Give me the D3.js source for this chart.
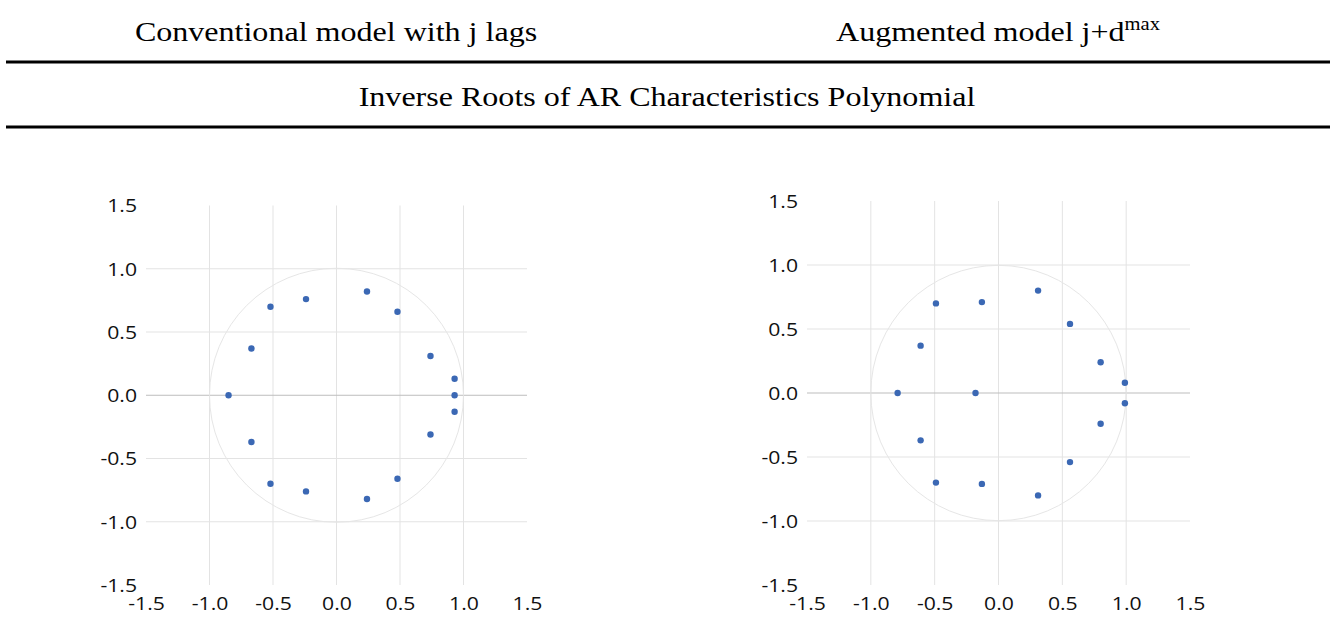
<!DOCTYPE html>
<html>
<head>
<meta charset="utf-8">
<script src="https://cdn.jsdelivr.net/npm/d3@7"></script>
<style>
  body { margin: 0; background: #fff; }
  svg { display: block; }
</style>
</head>
<body>
<div id="chart"></div>
<script>
// headings
const leftTitle = "Conventional model with j lags";
const rightTitle = "Augmented model j+d";
const rightTitleSup = "max";
const panelTitle = "Inverse Roots of AR Characteristics Polynomial";

// tick labels shared by both panels
const tickValues = [-1.5, -1.0, -0.5, 0.0, 0.5, 1.0, 1.5];
const gridValues = [-1.0, -0.5, 0.0, 0.5, 1.0];

// inverse roots, conventional model (real, imaginary)
const convRe = [-0.85, -0.67, -0.67, -0.52, -0.52, -0.24, -0.24, 0.24, 0.24, 0.48, 0.48, 0.74, 0.74, 0.93, 0.93, 0.93];
const convIm = [0.00, 0.37, -0.37, 0.70, -0.70, 0.76, -0.76, 0.82, -0.82, 0.66, -0.66, 0.31, -0.31, 0.13, 0.00, -0.13];

// inverse roots, augmented model (real, imaginary)
const augRe = [-0.79, -0.61, -0.61, -0.49, -0.49, -0.18, -0.13, -0.13, 0.31, 0.31, 0.56, 0.56, 0.80, 0.80, 0.99, 0.99];
const augIm = [0.00, 0.37, -0.37, 0.70, -0.70, 0.00, 0.71, -0.71, 0.80, -0.80, 0.54, -0.54, 0.24, -0.24, 0.08, -0.08];

const width = 1335;
const height = 635;
const serif = "'Liberation Serif', 'Times New Roman', serif";
const sans = "'Open Sans', 'Noto Sans', sans-serif";
const dotColor = "#3b68b4";
// the source picture is a bit stretched sideways
const stretch = 1.145;

const svg = d3.select("#chart")
    .append("svg")
    .attr("width", width)
    .attr("height", height);

function heading(x, y, txt) {
    return svg.append("text")
        .attr("transform", `translate(${x},${y}) scale(${stretch},1)`)
        .attr("text-anchor", "middle")
        .attr("font-family", serif)
        .attr("font-size", 28)
        .attr("fill", "#000")
        .text(txt);
}

heading(336, 41, leftTitle);
heading(998, 41, rightTitle)
    .append("tspan")
    .attr("font-size", 18)
    .attr("dy", -11)
    .text(rightTitleSup);
heading(667, 106, panelTitle);

svg.selectAll("line.rule")
    .data([62, 127])
    .join("line")
    .attr("class", "rule")
    .attr("x1", 6)
    .attr("x2", 1330)
    .attr("y1", d => d)
    .attr("y2", d => d)
    .attr("stroke", "#000")
    .attr("stroke-width", 3);

function drawPanel(re, im, xRange, yRange) {
    const data = re.map((r, i) => ({re: r, im: im[i]}));

    const x = d3.scaleLinear().domain([-1.5, 1.5]).range(xRange);
    const y = d3.scaleLinear().domain([-1.5, 1.5]).range(yRange);

    const g = svg.append("g");

    // gridlines (inner ticks only, like the excel chart)
    g.append("g")
        .selectAll("line")
        .data(gridValues)
        .join("line")
        .attr("x1", d => x(d))
        .attr("x2", d => x(d))
        .attr("y1", y(1.5))
        .attr("y2", y(-1.5))
        .attr("stroke", "#e3e3e3")
        .attr("stroke-width", 1);

    g.append("g")
        .selectAll("line")
        .data(gridValues)
        .join("line")
        .attr("x1", x(-1.5))
        .attr("x2", x(1.5))
        .attr("y1", d => y(d))
        .attr("y2", d => y(d))
        .attr("stroke", d => d === 0 ? "#bdbdbd" : "#e3e3e3")
        .attr("stroke-width", 1);

    // unit circle
    g.append("circle")
        .attr("cx", x(0))
        .attr("cy", y(0))
        .attr("r", x(1) - x(0))
        .attr("fill", "none")
        .attr("stroke", "#e6e6e6")
        .attr("stroke-width", 1);

    const fmt = d => d.toFixed(1);

    const yAxis = g.append("g")
        .attr("transform", `translate(${x(-1.5) - 9},0)`)
        .call(d3.axisLeft(y).tickValues(tickValues).tickFormat(fmt).tickSize(0).tickPadding(0));
    const xAxis = g.append("g")
        .attr("transform", `translate(0,${y(-1.5) + 12})`)
        .call(d3.axisBottom(x).tickValues(tickValues).tickFormat(fmt).tickSize(0).tickPadding(0));

    [yAxis, xAxis].forEach(a => {
        a.select(".domain").remove();
        a.selectAll("text")
            .attr("x", 0)
            .attr("transform", `scale(${stretch},1)`)
            .attr("font-family", sans)
            .attr("font-size", 18.5)
            .attr("fill", "#111");
    });
    yAxis.selectAll("text").attr("dy", "0.35em");
    xAxis.selectAll("text").attr("dy", "0.72em");

    g.append("g")
        .selectAll("circle")
        .data(data)
        .join("circle")
        .attr("cx", d => x(d.re))
        .attr("cy", d => y(d.im))
        .attr("r", 3.2)
        .attr("fill", dotColor);
}

drawPanel(convRe, convIm, [146, 527], [585, 205.5]);
drawPanel(augRe, augIm, [807, 1190], [585, 201]);
</script>
</body>
</html>
